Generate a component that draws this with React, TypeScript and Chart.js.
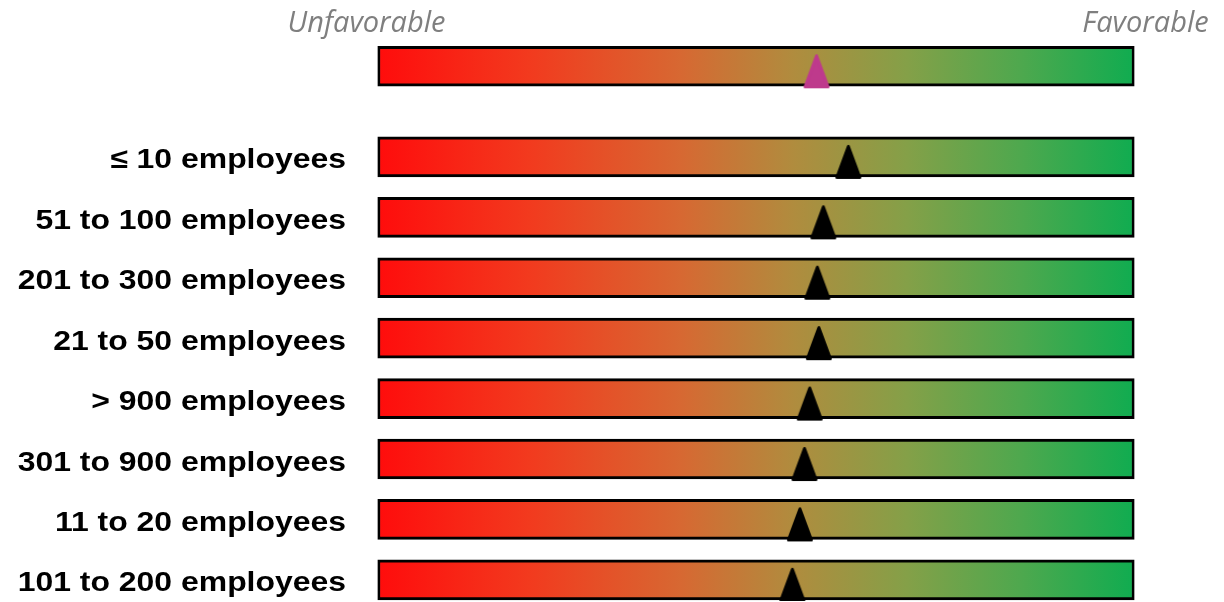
import React, { useEffect, useRef } from "react";
import { Chart, registerables } from "chart.js";

Chart.register(...registerables);

// ---- data ----
const categories: string[] = [
  "≤ 10 employees",
  "51 to 100 employees",
  "201 to 300 employees",
  "21 to 50 employees",
  "> 900 employees",
  "301 to 900 employees",
  "11 to 20 employees",
  "101 to 200 employees",
];
const groupScores: number[] = [62.2, 58.9, 58.1, 58.3, 57.1, 56.4, 55.8, 54.8];
const overallScore: number[] = [58.0];
const scaleEnds: string[] = ["Unfavorable", "Favorable"];
const scaleMin = 0;
const scaleMax = 100;

// layout constants (not data)
const OVERALL_POS = -1.5;

function makeTriangle(color: string): HTMLCanvasElement {
  const c = document.createElement("canvas");
  c.width = 30;
  c.height = 46;
  const g = c.getContext("2d")!;
  g.fillStyle = color;
  g.strokeStyle = color;
  g.lineWidth = 3;
  g.lineJoin = "round";
  g.beginPath();
  g.moveTo(15, 12.5);
  g.quadraticCurveTo(20, 26, 26.5, 43.5);
  g.lineTo(3.5, 43.5);
  g.quadraticCurveTo(10, 26, 15, 12.5);
  g.closePath();
  g.fill();
  g.stroke();
  return c;
}

export default function App() {
  const ref = useRef<HTMLCanvasElement | null>(null);

  useEffect(() => {
    document.body.style.margin = "0";
    const canvas = ref.current;
    if (!canvas) return;

    const blackTri = makeTriangle("#000000");
    const pinkTri = makeTriangle("#BE3A8C");

    const gradientBg = (c: any) => {
      const chart = c.chart;
      const a = chart.chartArea;
      if (!a) return "#888";
      const g = chart.ctx.createLinearGradient(a.left, 0, a.right, 0);
      g.addColorStop(0, "rgb(255,12,12)");
      g.addColorStop(0.2, "rgb(242,58,30)");
      g.addColorStop(0.4, "rgb(215,104,50)");
      g.addColorStop(0.55, "rgb(176,140,62)");
      g.addColorStop(0.7, "rgb(132,160,72)");
      g.addColorStop(0.85, "rgb(78,168,78)");
      g.addColorStop(1, "rgb(16,172,80)");
      return g;
    };

    const barData = [
      { x: scaleMax, y: OVERALL_POS },
      ...categories.map((_, i) => ({ x: scaleMax, y: i })),
    ];
    const markerData = [
      { x: overallScore[0], y: OVERALL_POS },
      ...groupScores.map((v, i) => ({ x: v, y: i })),
    ];
    const markerStyles = [pinkTri, ...groupScores.map(() => blackTri)];

    const labelPlugin = {
      id: "labels",
      afterDraw(chart: any) {
        const ctx = chart.ctx;
        const xs = chart.scales.x;
        const ys = chart.scales.y;
        const x0 = xs.getPixelForValue(scaleMin);
        const x1 = xs.getPixelForValue(scaleMax);
        ctx.save();
        // category labels
        ctx.fillStyle = "#000";
        ctx.font = "bold 28px 'Liberation Sans', Arial, sans-serif";
        ctx.textAlign = "right";
        ctx.textBaseline = "alphabetic";
        categories.forEach((lab, i) => {
          const y = ys.getPixelForValue(i);
          ctx.save();
          ctx.translate(x0 - 31.5, y + 11.5);
          ctx.scale(1.14, 1);
          ctx.fillText(lab, 0, 0);
          ctx.restore();
        });
        // scale ends
        const ty = ys.getPixelForValue(OVERALL_POS) - 34;
        ctx.fillStyle = "#7F7F7F";
        ctx.font = "italic 29px 'Open Sans', 'DejaVu Sans', sans-serif";
        ctx.textAlign = "center";
        ctx.fillText(scaleEnds[0], x0 - 11, ty);
        ctx.fillText(scaleEnds[1], x1 + 11, ty);
        ctx.restore();
      },
    };

    const chart = new Chart(canvas, {
      type: "bar",
      data: {
        datasets: [
          {
            type: "scatter",
            data: markerData,
            pointStyle: markerStyles as any,
            pointRadius: 15,
            order: 0,
          } as any,
          {
            type: "bar",
            indexAxis: "y",
            data: barData,
            backgroundColor: gradientBg,
            borderColor: "#000",
            borderWidth: 3,
            borderSkipped: false,
            barThickness: 40,
            order: 1,
          } as any,
        ],
      },
      options: {
        animation: false,
        responsive: false,
        events: [],
        layout: { autoPadding: false, padding: { left: 377.5, right: 89.5, top: 27, bottom: 1 } },
        scales: {
          x: { type: "linear", min: scaleMin, max: scaleMax, display: false, offset: false, grace: 0 },
          y: { type: "linear", min: -2.15, max: 7.35, reverse: true, display: false, offset: false, grace: 0 },
        },
        plugins: { legend: { display: false }, tooltip: { enabled: false } },
      } as any,
      plugins: [labelPlugin],
    });

    return () => chart.destroy();
  }, []);

  return (
    <div style={{ position: "fixed", left: 0, top: 0, width: 1224, height: 602, background: "#fff" }}>
      <canvas ref={ref} width={1224} height={602} style={{ width: 1224, height: 602 }} />
    </div>
  );
}
